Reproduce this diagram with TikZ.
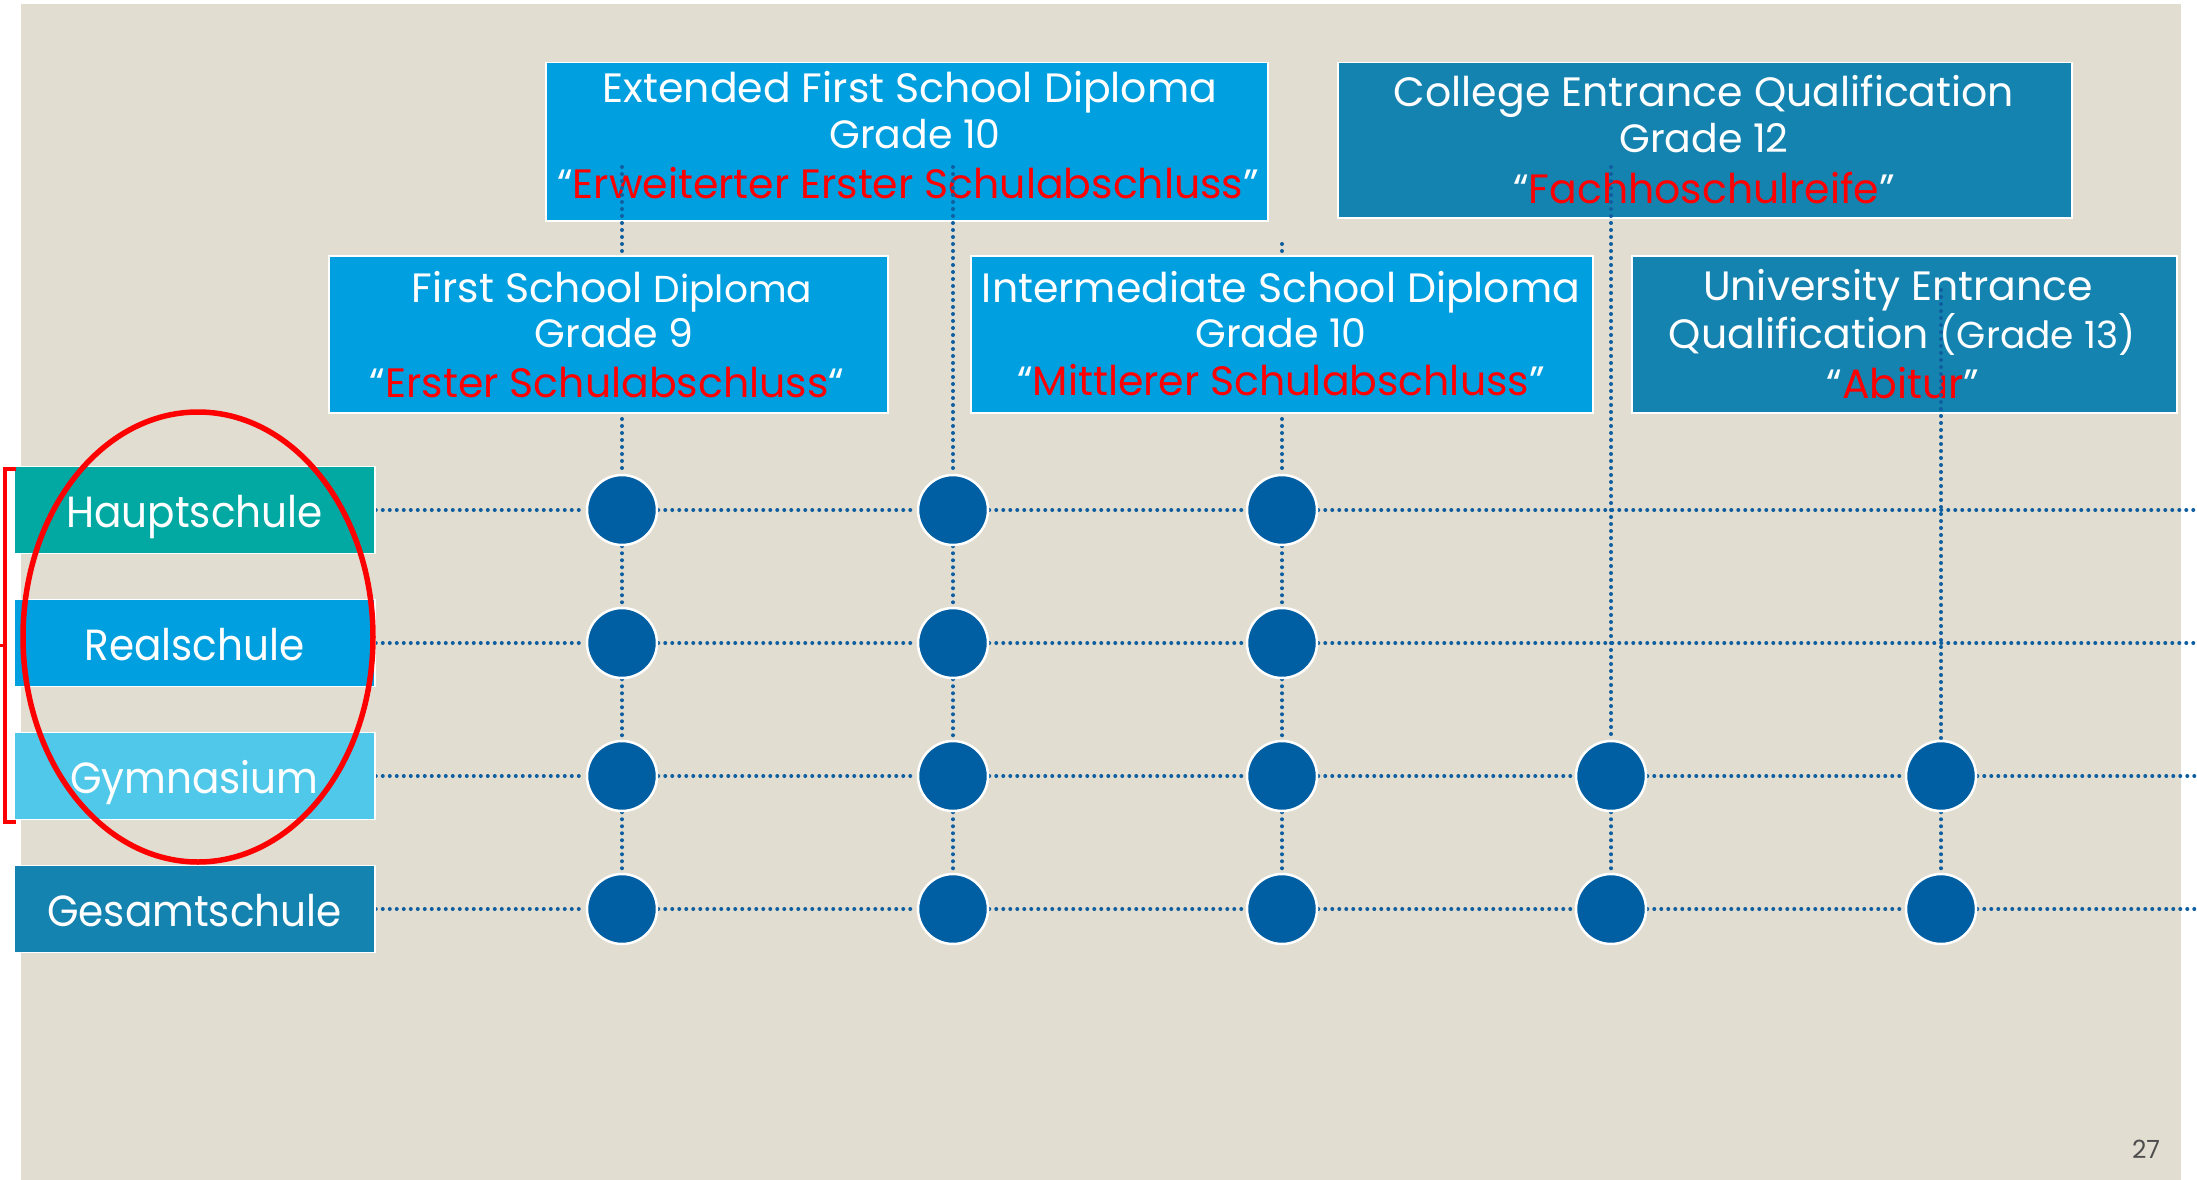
\documentclass[tikz,border=0pt]{standalone}
\usepackage{fontspec}
\setmainfont{Poppins}
\newfontfamily\labfont{Poppins}[FakeStretch=0.93]
\usetikzlibrary{shapes.geometric}
\definecolor{beige}{HTML}{E2DDD1}
\definecolor{boxblue}{HTML}{009FDF}
\definecolor{boxsteel}{HTML}{1583B0}
\definecolor{teal}{HTML}{02A9A3}
\definecolor{lightblue}{HTML}{50C8EA}
\definecolor{circblue}{HTML}{005EA2}
\definecolor{dotblue}{HTML}{0F5FA0}
\definecolor{txtred}{HTML}{FF0000}
\definecolor{pgnum}{HTML}{4D4D4D}
\newcommand\fsbig{\fontsize{41}{48}\selectfont}
\newcommand\fssmall{\fontsize{37.5}{48}\selectfont}
\newcommand\fsgrade{\fontsize{39.5}{48}\selectfont}
\newcommand\fslab{\labfont\fontsize{43.6}{50}\selectfont}
\newcommand\rd[1]{\textcolor{txtred}{#1}}
\pgfdeclarelayer{back}
\pgfdeclarelayer{lower}
\pgfdeclarelayer{lines}
\pgfsetlayers{back,lower,lines,main}
\tikzset{
  dipbox/.style={draw=white, line width=1.5pt, inner sep=0pt, anchor=north west},
  ln/.style={anchor=base, text=white, inner sep=0pt},
  schoolbox/.style={draw=white, line width=1.5pt, inner sep=0pt, minimum width=361pt,
     minimum height=87pt, text=white, font=\fslab, text height=34pt, text depth=0pt},
  dot/.style={circle, fill=circblue, draw=white, line width=2.5pt, minimum size=70pt, inner sep=0pt},
  dotline/.style={draw=dotblue, line width=4pt, line cap=round, dash pattern=on 0pt off 7pt},
  redline/.style={draw=txtred, line width=5.5pt},
}
\begin{document}
\begin{tikzpicture}[x=1pt, y=-1pt]
\useasboundingbox (0,0) rectangle (2197,1180);
\begin{pgfonlayer}{back}
  \fill[white] (0,0) rectangle (2197,1180);
  \fill[beige] (21,4) rectangle (2181,1180);
\end{pgfonlayer}

% upper diploma boxes (lines run over them)
\begin{pgfonlayer}{lower}
  \node[dipbox, fill=boxblue, minimum width=722pt, minimum height=158pt] (ext) at (545,62) {};
  \node[ln, font=\fsbig] (ext1) at (910,103) {Extended First School Diploma};
  \node[ln, font=\fsgrade] (ext2) at (915,148) {Grade 10};
  \node[ln, font=\fsbig] (ext3) at (908,198) {“\rd{Erweiterter Erster Schulabschluss}”};

  \node[dipbox, fill=boxsteel, minimum width=734pt, minimum height=155pt] (coll) at (1337,62) {};
  \node[ln, font=\fsbig] (coll1) at (1704,107) {College Entrance Qualification};
  \node[ln, font=\fsgrade] (coll2) at (1704,153) {Grade 12};
  \node[ln, font=\fsbig] (coll3) at (1704,203) {“\rd{Fachhoschulreife}”};

  \node[dipbox, fill=boxsteel, minimum width=545pt, minimum height=157pt] (uni) at (1631,255) {};
  \node[ln, font=\fsbig] (uni1) at (1898,300) {University Entrance};
  \node[ln, font=\fsbig] (uni2) at (1902,348) {Qualification {\fssmall(Grade 13)}};
  \node[ln, font=\fsbig] (uni3) at (1903,398) {“\rd{Abitur}”};
\end{pgfonlayer}

% lower diploma boxes (lines run under them)
\node[dipbox, fill=boxblue, minimum width=559pt, minimum height=157pt] (fsd) at (328,255) {};
\node[ln, font=\fsbig] (fsd1) at (612,302) {First School {\fssmall Diploma}};
\node[ln, font=\fsgrade] (fsd2) at (614,347) {Grade 9};
\node[ln, font=\fsbig] (fsd3) at (607,397) {“\rd{Erster Schulabschluss}“};

\node[dipbox, fill=boxblue, minimum width=622pt, minimum height=157pt] (imd) at (970,255) {};
\node[ln, font=\fsbig] (imd1) at (1281,302) {Intermediate School Diploma};
\node[ln, font=\fsgrade] (imd2) at (1281,347) {Grade 10};
\node[ln, font=\fsbig] (imd3) at (1281,395) {“\rd{Mittlerer Schulabschluss}”};

% school types
\node[schoolbox, fill=teal] (haupt) at (194.5,510) {Hauptschule};
\node[schoolbox, fill=boxblue] (real) at (194.5,643) {Realschule};
\node[schoolbox, fill=lightblue] (gym) at (194.5,776) {Gymnasium};
\node[schoolbox, fill=boxsteel] (ges) at (194.5,909) {Gesamtschule};

% circles
\foreach \r/\y in {1/510,2/643,3/776,4/909}{
  \foreach \c/\x in {1/622,2/953,3/1282}{
    \node[dot] (c\r\c) at (\x,\y) {};
  }
}
\foreach \r/\y in {3/776,4/909}{
  \foreach \c/\x in {4/1611,5/1941}{
    \node[dot] (c\r\c) at (\x,\y) {};
  }
}

% free ends
\coordinate (e1) at (2197,510);
\coordinate (e2) at (2197,643);
\coordinate (e3) at (2197,776);
\coordinate (e4) at (2197,909);
\coordinate (t1) at (622,167);
\coordinate (t2) at (953,167);
\coordinate (t3) at (1282,244);
\coordinate (t4) at (1611,167);
\coordinate (t5) at (1941,290);

\begin{pgfonlayer}{lines}
  \draw[dotline] (haupt) -- (c11) -- (c12) -- (c13) -- (e1);
  \draw[dotline] (real) -- (c21) -- (c22) -- (c23) -- (e2);
  \draw[dotline] (gym) -- (c31) -- (c32) -- (c33) -- (c34) -- (c35) -- (e3);
  \draw[dotline] (ges) -- (c41) -- (c42) -- (c43) -- (c44) -- (c45) -- (e4);
  \draw[dotline] (t1) -- (c11) -- (c21) -- (c31) -- (c41);
  \draw[dotline] (t2) -- (c12) -- (c22) -- (c32) -- (c42);
  \draw[dotline] (t3) -- (c13) -- (c23) -- (c33) -- (c43);
  \draw[dotline] (t4) -- (c34) -- (c44);
  \draw[dotline] (t5) -- (c35) -- (c45);
\end{pgfonlayer}

% red highlight
\node[ellipse, redline, minimum width=350pt, minimum height=450pt, inner sep=0pt] (ring) at (198,637) {};
\draw[draw=txtred, line width=3.5pt] (16,469) -- (5,469) -- (5,822) -- (16,822);
\draw[draw=txtred, line width=3pt] (5,645) -- (0,645);

% page number
\node[anchor=base, text=pgnum, font=\fontsize{25}{30}\selectfont, inner sep=0pt] (pg) at (2146,1158) {27};
\end{tikzpicture}
\end{document}
